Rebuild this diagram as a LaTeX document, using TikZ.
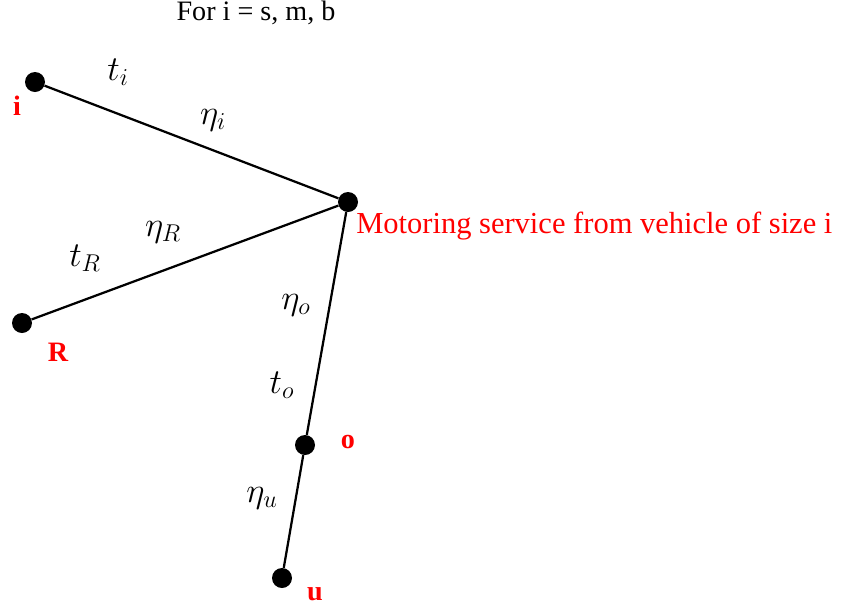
\documentclass[tikz,border=0pt]{standalone}
\usepackage{fontspec}
\setmainfont{Liberation Serif}
\usepackage{xcolor}
\usetikzlibrary{positioning}
\definecolor{lbl}{HTML}{FF0000}

\begin{document}
\begin{tikzpicture}[font=\fontsize{20}{24}\selectfont,
  pt/.style={circle,fill=black,minimum size=5mm,inner sep=0pt},
  tag/.style={text=lbl,font=\fontsize{20}{24}\selectfont\bfseries,inner sep=0pt},
  sym/.style={font=\fontsize{24}{28}\selectfont,inner sep=0pt},
  lnk/.style={line width=1.6pt}]
\useasboundingbox (0,0) rectangle (21.15,-15.175);

% ---- title
\node (ttl) at (6.4,-0.32) {For i = s, m, b};

% ---- points
\node[pt] (ni) at (0.875,-2.05) {};
\node[pt] (nc) at (8.7,-5.05) {};
\node[pt] (nR) at (0.55,-8.075) {};
\node[pt] (no) at (7.625,-11.125) {};
\node[pt] (nu) at (7.05,-14.45) {};

\draw[lnk] (ni) -- (nc);
\draw[lnk] (nR) -- (nc);
\draw[lnk] (nc) -- (no);
\draw[lnk] (no) -- (nu);

% ---- point names
\node[tag] (li) at (0.425,-2.65) {i};
\node[tag] (lR) at (1.45,-8.8) {R};
\node[tag] (lo) at (8.7,-11.05) {o};
\node[tag] (lu) at (7.875,-14.85) {u};
\node[text=lbl,anchor=west,inner sep=0pt,font=\fontsize{21.7}{26}\selectfont]
  (svc) at (8.9,-5.65) {Motoring service from vehicle of size i};

% ---- edge labels
\node[sym] (ti) at (2.95,-1.8) {$t_i$};
\node[sym] (ei) at (5.325,-3.0) {$\eta_i$};
\node[sym] (eR) at (4.075,-5.8) {$\eta_R$};
\node[sym] (tR) at (2.125,-6.45) {$t_R$};
\node[sym] (eo) at (7.4,-7.625) {$\eta_o$};
\node[sym] (to) at (7.05,-9.625) {$t_o$};
\node[sym] (eu) at (6.55,-12.45) {$\eta_u$};
\end{tikzpicture}
\end{document}
